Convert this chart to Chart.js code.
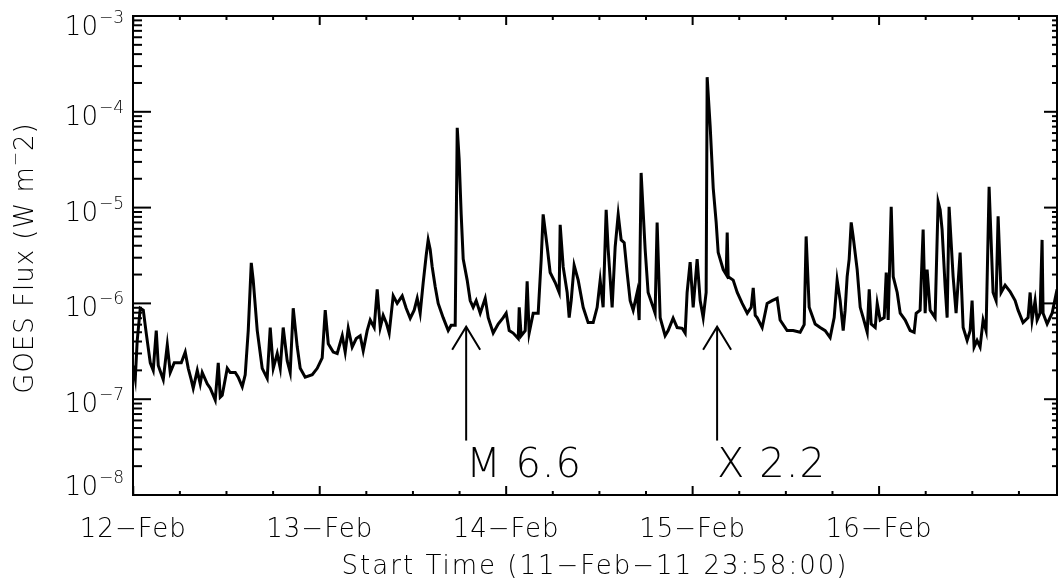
<!DOCTYPE html>
<html>
<head>
<meta charset="utf-8">
<script src="https://cdn.jsdelivr.net/npm/chart.js@4.4.0/dist/chart.umd.min.js"></script>
<style>
html, body { margin: 0; padding: 0; background: #fff; }
#wrap { width: 1060px; height: 587px; }
</style>
</head>
<body>
<div id="wrap"><canvas id="goes" width="1060" height="587"></canvas></div>
<script>
// hours after 12-Feb-2011 00:00 and GOES flux (W m^-2)
const hours = [
    0.0, 0.26, 0.51, 0.90, 1.29, 1.67, 2.19, 2.57, 2.96, 3.22,
    3.86, 4.38, 4.76, 5.28, 5.66, 6.18, 6.69, 7.08, 7.46, 7.72,
    8.24, 8.62, 8.88, 9.52, 9.91, 10.55, 10.94, 11.20, 11.45, 12.10,
    12.48, 13.13, 13.51, 14.03, 14.41, 14.80, 15.19, 15.44, 15.96, 16.60,
    17.24, 17.63, 18.02, 18.53, 18.92, 19.30, 19.82, 20.20, 20.59, 21.11,
    21.49, 22.13, 23.04, 23.68, 24.32, 24.71, 25.10, 25.74, 26.25, 26.90,
    27.28, 27.67, 28.18, 28.70, 29.21, 29.60, 30.11, 30.50, 31.01, 31.40,
    31.79, 32.17, 32.56, 32.94, 33.46, 33.97, 34.62, 35.13, 35.65, 36.16,
    36.55, 36.93, 37.32, 37.71, 37.96, 38.22, 38.48, 38.86, 39.25, 39.89,
    40.54, 40.92, 41.44, 41.70, 41.95, 42.21, 42.47, 42.98, 43.37, 43.75,
    44.14, 44.66, 45.30, 45.69, 46.33, 46.97, 47.62, 48.00, 48.39, 48.90,
    49.55, 49.68, 49.93, 50.45, 50.70, 50.96, 51.48, 52.12, 52.51, 52.76,
    53.28, 53.66, 54.31, 54.82, 54.95, 55.34, 55.85, 56.11, 56.37, 56.75,
    57.27, 57.91, 58.55, 59.20, 59.71, 60.10, 60.48, 60.87, 61.13, 61.64,
    62.03, 62.42, 62.80, 63.19, 63.57, 63.96, 64.35, 64.86, 65.12, 65.37,
    65.89, 66.27, 66.92, 67.17, 67.43, 67.82, 68.46, 68.85, 69.49, 70.01,
    70.65, 71.04, 71.29, 71.68, 72.07, 72.58, 72.97, 73.36, 73.74, 73.87,
    74.26, 74.65, 75.03, 75.29, 75.94, 76.32, 76.45, 76.58, 77.22, 77.74,
    78.38, 79.03, 79.54, 79.80, 80.06, 80.30, 80.95, 81.59, 82.23, 82.88,
    83.26, 84.16, 84.94, 85.84, 86.36, 86.61, 87.00, 87.77, 88.41, 89.06,
    89.70, 90.22, 90.60, 90.99, 91.38, 91.63, 91.89, 92.15, 92.41, 92.66,
    93.18, 93.57, 93.95, 94.47, 94.73, 94.98, 95.50, 95.76, 96.14, 96.66,
    96.92, 97.17, 97.56, 97.82, 98.33, 98.72, 99.36, 100.00, 100.51, 100.77,
    101.28, 101.67, 101.93, 102.18, 102.57, 103.21, 103.47, 103.60, 103.86, 104.11,
    104.50, 104.76, 105.01, 105.53, 105.91, 106.43, 106.82, 107.33, 107.72, 107.97,
    108.23, 108.61, 109.00, 109.39, 109.77, 110.16, 110.67, 111.06, 111.32, 111.70,
    112.22, 112.86, 113.51, 113.89, 114.53, 115.18, 115.44, 115.69, 116.08, 116.34,
    116.72, 116.98, 117.11, 117.63, 118.27, 118.91
];
const flux = [
    2.25e-7, 1.65e-7, 4.1e-7, 8.9e-7, 8.5e-7, 4.9e-7, 2.4e-7, 2.0e-7, 5.2e-7, 2.25e-7,
    1.6e-7, 3.7e-7, 1.9e-7, 2.4e-7, 2.4e-7, 2.4e-7, 3.1e-7, 2.1e-7, 1.6e-7, 1.3e-7,
    2.0e-7, 1.45e-7, 1.9e-7, 1.45e-7, 1.3e-7, 9.8e-8, 2.4e-7, 1.05e-7, 1.1e-7, 2.1e-7,
    1.9e-7, 1.9e-7, 1.7e-7, 1.35e-7, 1.8e-7, 5.2e-7, 2.65e-6, 1.75e-6, 5.2e-7, 2.1e-7,
    1.65e-7, 5.6e-7, 2.1e-7, 3.0e-7, 2.1e-7, 5.6e-7, 2.5e-7, 1.9e-7, 8.9e-7, 3.5e-7,
    2.1e-7, 1.7e-7, 1.8e-7, 2.1e-7, 2.7e-7, 8.5e-7, 3.8e-7, 3.1e-7, 3.0e-7, 4.6e-7,
    3.1e-7, 5.5e-7, 3.5e-7, 4.3e-7, 4.6e-7, 3.2e-7, 5.2e-7, 6.7e-7, 5.6e-7, 1.4e-6,
    5.6e-7, 7.5e-7, 6.3e-7, 4.9e-7, 1.2e-6, 1.0e-6, 1.2e-6, 8.9e-7, 7.0e-7, 8.5e-7,
    1.13e-6, 7.9e-7, 1.65e-6, 3.2e-6, 4.6e-6, 3.65e-6, 2.4e-6, 1.5e-6, 1.0e-6, 7.1e-7,
    5.2e-7, 5.9e-7, 5.9e-7, 6.8e-5, 3.2e-5, 8.5e-6, 2.9e-6, 1.75e-6, 1.07e-6, 9.1e-7,
    1.07e-6, 7.9e-7, 1.13e-6, 7.1e-7, 4.9e-7, 6.1e-7, 7.1e-7, 7.9e-7, 5.2e-7, 4.9e-7,
    4.3e-7, 9.1e-7, 4.6e-7, 5.2e-7, 1.7e-6, 4.9e-7, 7.9e-7, 7.9e-7, 2.9e-6, 8.5e-6,
    3.9e-6, 2.1e-6, 1.65e-6, 1.3e-6, 6.6e-6, 2.4e-6, 1.3e-6, 7.1e-7, 1.07e-6, 2.5e-6,
    1.75e-6, 9.1e-7, 6.3e-7, 6.3e-7, 9.1e-7, 1.75e-6, 9.1e-7, 9.5e-6, 3.65e-6, 9.1e-7,
    3.9e-6, 8.5e-6, 4.6e-6, 4.3e-6, 2.1e-6, 1.07e-6, 8.5e-7, 1.3e-6, 6.7e-7, 2.3e-5,
    3.65e-6, 1.3e-6, 9.1e-7, 7.9e-7, 7.0e-6, 7.1e-7, 4.6e-7, 5.2e-7, 7.0e-7, 5.6e-7,
    5.5e-7, 4.9e-7, 1.3e-6, 2.7e-6, 9.1e-7, 2.9e-6, 1.07e-6, 7.1e-7, 1.3e-6, 2.3e-4,
    7.0e-5, 1.6e-5, 7.0e-6, 3.4e-6, 2.25e-6, 2.0e-6, 5.5e-6, 1.9e-6, 1.75e-6, 1.3e-6,
    1.0e-6, 7.9e-7, 9.1e-7, 1.45e-6, 7.5e-7, 7.1e-7, 5.6e-7, 1.0e-6, 1.07e-6, 1.13e-6,
    6.7e-7, 5.2e-7, 5.2e-7, 5.0e-7, 6.0e-7, 5.0e-6, 9.1e-7, 6.1e-7, 5.6e-7, 5.2e-7,
    4.4e-7, 7.1e-7, 1.75e-6, 1.07e-6, 5.2e-7, 8.5e-7, 1.9e-6, 2.9e-6, 7.0e-6, 5.0e-6,
    2.25e-6, 9.1e-7, 7.1e-7, 5.0e-7, 1.4e-6, 6.1e-7, 5.6e-7, 1.0e-6, 6.7e-7, 7.1e-7,
    2.1e-6, 6.7e-7, 1.02e-5, 1.9e-6, 1.3e-6, 7.9e-7, 6.7e-7, 5.2e-7, 5.0e-7, 7.9e-7,
    8.5e-7, 5.9e-6, 7.9e-7, 2.25e-6, 8.5e-7, 7.1e-7, 4.6e-6, 1.15e-5, 9.5e-6, 5.9e-6,
    1.5e-6, 7.1e-7, 1.02e-5, 1.9e-6, 7.9e-7, 3.4e-6, 5.6e-7, 4.1e-7, 5.2e-7, 1.07e-6,
    3.5e-7, 4.1e-7, 3.5e-7, 6.7e-7, 5.2e-7, 1.65e-5, 1.3e-6, 1.07e-6, 8.1e-6, 1.3e-6,
    1.55e-6, 1.33e-6, 1.07e-6, 8.5e-7, 6.3e-7, 7.1e-7, 1.3e-6, 6.7e-7, 1.07e-6, 6.7e-7,
    7.9e-7, 4.6e-6, 7.9e-7, 6.1e-7, 7.9e-7, 1.4e-6
];

const dayTicks = [0, 24, 48, 72, 96];
const dayLabels = ['12\u2212Feb', '13\u2212Feb', '14\u2212Feb', '15\u2212Feb', '16\u2212Feb'];
const decades = [1e-8, 1e-7, 1e-6, 1e-5, 1e-4, 1e-3];
const decadeExps = ['\u22128', '\u22127', '\u22126', '\u22125', '\u22124', '\u22123'];

// flares marked with arrows
const flareHours = [42.85, 75.15];
const flareLabels = ['M 6.6', 'X 2.2'];

const FONT = '"DejaVu Sans", sans-serif';

function seg(ctx, x1, y1, x2, y2) {
    ctx.beginPath();
    ctx.moveTo(x1, y1);
    ctx.lineTo(x2, y2);
    ctx.stroke();
}

// axes box, ticks, labels and flare arrows
const idlFrame = {
    id: 'idlFrame',
    afterDraw(chart) {
        const ctx = chart.ctx;
        const a = chart.chartArea;
        const xs = chart.scales.x;
        const ys = chart.scales.y;
        ctx.save();
        ctx.strokeStyle = '#000';
        ctx.fillStyle = '#000';
        ctx.lineWidth = 2;
        ctx.strokeRect(a.left, a.top, a.right - a.left, a.bottom - a.top);

        // x ticks every 6 hours, longer at each day
        for (let h = 0; h <= xs.max; h += 6) {
            const px = xs.getPixelForValue(h);
            const len = h % 24 === 0 ? 9 : 4;
            seg(ctx, px, a.bottom, px, a.bottom - len);
            seg(ctx, px, a.top, px, a.top + len);
        }

        // log y ticks
        decades.forEach(d => {
            for (let m = 1; m <= 9; m++) {
                const v = d * m;
                if (v > ys.max * 1.0001) break;
                const py = ys.getPixelForValue(v);
                const major = m === 1;
                seg(ctx, a.left, py, a.left + (major ? 18 : 9), py);
                seg(ctx, a.right, py, a.right - (major ? 13 : 5), py);
            }
        });

        // x tick labels
        ctx.textAlign = 'center';
        ctx.textBaseline = 'alphabetic';
        ctx.font = '200 26px ' + FONT;
        ctx.letterSpacing = '1px';
        dayTicks.forEach((h, i) => {
            ctx.fillText(dayLabels[i], xs.getPixelForValue(h), 537);
        });

        // y tick labels, 10 with a raised exponent
        ctx.letterSpacing = '0px';
        ctx.textAlign = 'right';
        decades.forEach((d, i) => {
            const py = ys.getPixelForValue(d);
            const cy = Math.min(Math.max(py + 4, 26), 486);
            ctx.font = '200 17px ' + FONT;
            const ew = ctx.measureText(decadeExps[i]).width;
            ctx.fillText(decadeExps[i], a.left - 9, cy - 3);
            ctx.font = '200 26px ' + FONT;
            ctx.fillText('10', a.left - 10 - ew, cy + 9);
        });

        // x axis title
        ctx.textAlign = 'center';
        ctx.font = '200 26px ' + FONT;
        ctx.letterSpacing = '2px';
        ctx.fillText('Start Time (11\u2212Feb\u221211 23:58:00)', (a.left + a.right) / 2, 574);

        // y axis title, rotated
        ctx.save();
        ctx.translate(33, 258);
        ctx.rotate(-Math.PI / 2);
        ctx.letterSpacing = '1px';
        const p1 = 'GOES Flux (W m';
        const p2 = '\u2212';
        const p3 = '2)';
        ctx.font = '200 26px ' + FONT;
        const w1 = ctx.measureText(p1).width;
        const w3 = ctx.measureText(p3).width;
        ctx.font = '200 17px ' + FONT;
        const w2 = ctx.measureText(p2).width;
        const x0 = -(w1 + w2 + w3) / 2;
        ctx.textAlign = 'left';
        ctx.font = '200 26px ' + FONT;
        ctx.fillText(p1, x0, 0);
        ctx.font = '200 17px ' + FONT;
        ctx.fillText(p2, x0 + w1, -12);
        ctx.font = '200 26px ' + FONT;
        ctx.fillText(p3, x0 + w1 + w2, 0);
        ctx.restore();

        // flare arrows with class labels underneath
        ctx.letterSpacing = '1px';
        ctx.lineWidth = 2;
        ctx.textAlign = 'left';
        ctx.font = '200 40px ' + FONT;
        flareHours.forEach((h, i) => {
            const px = xs.getPixelForValue(h);
            const tip = ys.getPixelForValue(5.7e-7);
            const base = ys.getPixelForValue(3.7e-8);
            seg(ctx, px, base, px, tip);
            ctx.beginPath();
            ctx.moveTo(px - 14, tip + 23);
            ctx.lineTo(px, tip);
            ctx.lineTo(px + 14, tip + 23);
            ctx.stroke();
            ctx.fillText(flareLabels[i], px, 477);
        });
        ctx.restore();
    }
};

new Chart(document.getElementById('goes'), {
    type: 'line',
    data: {
        datasets: [{
            data: hours.map((h, i) => ({ x: h, y: flux[i] })),
            borderColor: '#000',
            borderWidth: 3,
            pointRadius: 0,
            tension: 0,
            fill: false
        }]
    },
    options: {
        responsive: false,
        animation: false,
        devicePixelRatio: 1,
        layout: { padding: { left: 133, right: 3, top: 16, bottom: 92 } },
        scales: {
            x: { type: 'linear', min: -0.033, max: 118.9, display: false },
            y: { type: 'logarithmic', min: 1e-8, max: 1e-3, display: false }
        },
        plugins: {
            legend: { display: false },
            tooltip: { enabled: false }
        }
    },
    plugins: [idlFrame]
});
</script>
</body>
</html>
